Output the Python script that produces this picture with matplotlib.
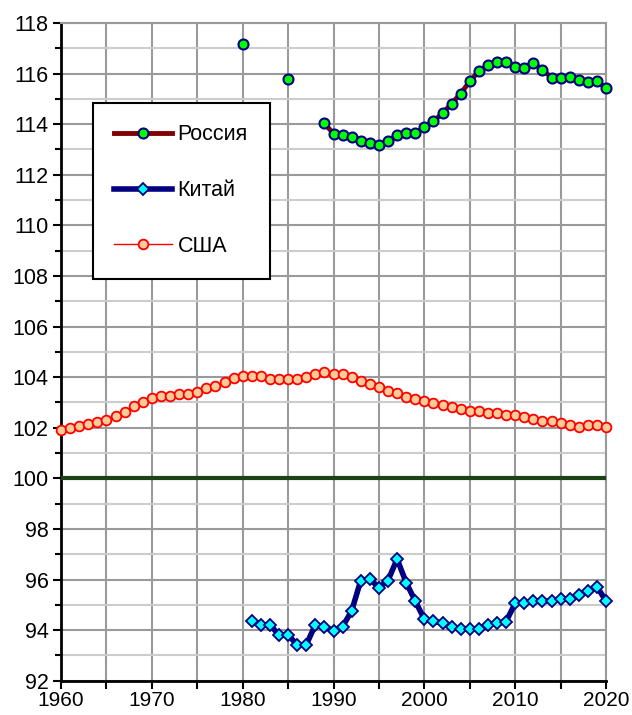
import numpy as np
import matplotlib
matplotlib.use('Agg')
import matplotlib.pyplot as plt
from matplotlib.ticker import MultipleLocator

plt.rcParams['font.family'] = ['Liberation Sans', 'DejaVu Sans']

# Data
russia_years = [1980, 1985] + list(range(1989, 2021))
russia_vals = [117.18, 115.77,
               114.03, 113.63, 113.56, 113.49, 113.34, 113.24, 113.16, 113.34,
               113.57, 113.65, 113.64, 113.88, 114.11, 114.43, 114.81, 115.21,
               115.69, 116.09, 116.33, 116.47, 116.47, 116.25, 116.24, 116.42,
               116.16, 115.84, 115.84, 115.85, 115.76, 115.68, 115.69, 115.44]

china_years = list(range(1981, 2021))
china_vals = [94.36, 94.21, 94.21, 93.81, 93.81, 93.42, 93.42, 94.21, 94.14, 93.97,
              94.14, 94.76, 95.96, 96.02, 95.68, 95.96, 96.81, 95.88, 95.15, 94.43,
              94.36, 94.27, 94.14, 94.05, 94.05, 94.05, 94.21, 94.27, 94.34, 95.06,
              95.06, 95.15, 95.15, 95.15, 95.23, 95.23, 95.39, 95.56, 95.72, 95.15]

usa_years = list(range(1960, 2021))
usa_vals = [101.90, 101.98, 102.06, 102.14, 102.22, 102.30, 102.45, 102.61, 102.85, 103.01,
            103.17, 103.24, 103.24, 103.32, 103.32, 103.40, 103.56, 103.64, 103.80, 103.96,
            104.04, 104.04, 104.04, 103.93, 103.93, 103.93, 103.93, 104.00, 104.11, 104.19,
            104.11, 104.11, 104.02, 103.86, 103.72, 103.63, 103.47, 103.39, 103.23, 103.15,
            103.07, 102.99, 102.91, 102.83, 102.75, 102.68, 102.68, 102.60, 102.60, 102.52,
            102.52, 102.44, 102.36, 102.28, 102.28, 102.20, 102.12, 102.04, 102.12, 102.12,
            102.04]

parity_years = [1960, 2020]
parity_vals = [100, 100]


def with_gaps(years, vals):
    # put NaN where a year is missing so the line breaks there
    full = np.arange(years[0], years[-1] + 1)
    out = np.full(full.shape, np.nan)
    for y, v in zip(years, vals):
        out[y - years[0]] = v
    return full, out


fig = plt.figure(figsize=(6.32, 7.15), dpi=100)
ax = fig.add_axes([61 / 632, 1 - 680.7 / 715, (606 - 61) / 632, (680.7 - 23) / 715])

ax.plot(parity_years, parity_vals, color='#1b4316', lw=3, solid_capstyle='butt',
        zorder=3, clip_on=False)

ry, rv = with_gaps(russia_years, russia_vals)
ax.plot(ry, rv, color='#800000', lw=3.5, marker='o', ms=7.2, mfc='#00ff00',
        mec='#000080', mew=1.5, label='Россия', zorder=5, clip_on=False)

ax.plot(china_years, china_vals, color='#000080', lw=4, marker='D', ms=6, mfc='#00ffff',
        mec='#000080', mew=1.3, label='Китай', zorder=5, clip_on=False)

ax.plot(usa_years, usa_vals, color='#ff0000', lw=1, marker='o', ms=7, mfc='#ffcc99',
        mec='#ff0000', mew=1.3, label='США', zorder=4, clip_on=False)

ax.set_xlim(1960, 2020)
ax.set_ylim(92, 118)
ax.xaxis.set_major_locator(MultipleLocator(10))
ax.xaxis.set_minor_locator(MultipleLocator(5))
ax.yaxis.set_major_locator(MultipleLocator(2))
ax.yaxis.set_minor_locator(MultipleLocator(1))

ax.grid(True, which='major', axis='y', color='#9a9a9a', lw=1.5)
ax.grid(True, which='minor', axis='y', color='#cccccc', lw=1.5)
ax.grid(True, which='both', axis='x', color='#9a9a9a', lw=1.5)
ax.set_axisbelow(True)

for s in ['left', 'bottom']:
    ax.spines[s].set_color('black')
    ax.spines[s].set_linewidth(2)
for s in ['right', 'top']:
    ax.spines[s].set_color('#9a9a9a')
    ax.spines[s].set_linewidth(1.5)

ax.tick_params(which='major', direction='out', length=6, width=1.5, labelsize=15.5, pad=3)
ax.tick_params(which='minor', direction='out', length=4, width=1.5)
ax.tick_params(axis='x', which='minor', length=6)
ax.tick_params(axis='x', which='major', labelsize=15, pad=1.5)

leg = ax.legend(loc='upper left', bbox_to_anchor=(92.7 / 632, 1 - 102.7 / 715),
                bbox_transform=fig.transFigure, fontsize=15.5, fancybox=False,
                edgecolor='black', framealpha=1, handlelength=2.7,
                labelspacing=1.62, borderpad=1.0, handletextpad=0.25, borderaxespad=0)
leg.get_frame().set_linewidth(1.5)

fig.savefig('out.png', dpi=100)
